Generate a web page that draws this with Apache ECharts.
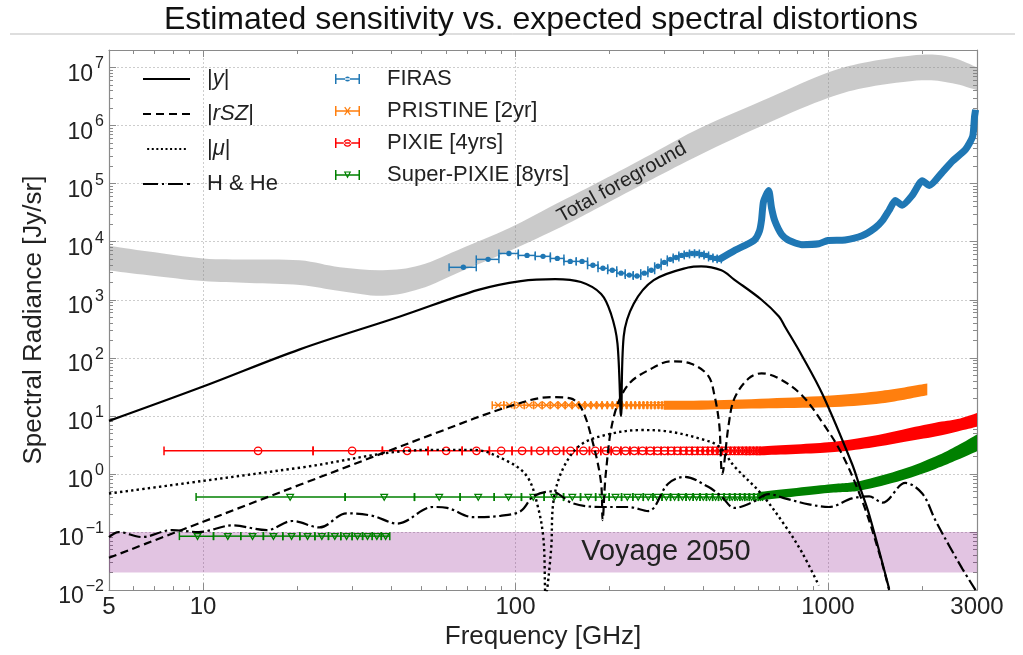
<!DOCTYPE html>
<html>
<head>
<meta charset="utf-8">
<script src="https://cdn.jsdelivr.net/npm/echarts@6/dist/echarts.min.js"></script>
<style>
  html, body { margin: 0; padding: 0; background: #fff; }
  #chart { width: 1023px; height: 655px; }
</style>
</head>
<body>
<div id="chart"></div>
<script>
// all values: frequency in GHz, radiance in Jy/sr

// axis ticks
const xTicks = [5, 10, 100, 1000, 3000]
const xMinor = [6, 7, 8, 9, 20, 30, 40, 50, 60, 70, 80, 90, 200, 300, 400, 500, 600, 700, 800, 900, 2000]
const yTicks = [0.01, 0.1, 1, 10, 100, 1e3, 1e4, 1e5, 1e6, 1e7]

// |y| (solid)
const ySzFreq = [5, 10, 20.4, 42.7, 76, 104, 134, 162, 188, 202, 212, 217.6, 222, 239, 277, 357, 393, 456, 500, 613, 697, 728, 825, 964, 1194, 1265, 1355, 1570]
const ySzVal = [8.2, 32, 140, 515, 1480, 2100, 2270, 2020, 1260, 580, 178, 10, 235, 855, 2180, 3600, 3770, 3220, 2250, 1000, 515, 347, 110, 22.7, 1.5, 0.6, 0.2, 0.0105]

// |rSZ| (dashed)
const rszFreq = [5, 10, 20.4, 57.4, 94.2, 130, 150, 162, 174, 188, 190, 194.5, 206, 229, 272, 315, 365, 414, 433, 449, 459, 481, 502, 557, 613, 697, 825, 957, 1109, 1286, 1458, 1570]
const rszVal = [0.036, 0.15, 0.65, 5.4, 14.2, 21, 20, 14, 4.8, 0.68, 0.16, 1.0, 9.3, 34, 65, 87, 79, 49, 23, 7, 1.0, 7, 20, 44, 54, 44, 22.7, 7.9, 2.2, 0.35, 0.044, 0.01]

// |mu| (dotted)
const muFreq = [5, 10, 20.4, 53.3, 73.3, 94.2, 109, 118, 123, 125, 130, 132.4, 142.6, 162, 197.8, 252, 308, 393, 447, 502, 613, 728, 825, 935]
const muVal = [0.46, 0.76, 1.28, 2.6, 2.6, 1.66, 0.9, 0.27, 0.072, 0.008, 0.05, 0.35, 1.3, 3.2, 4.8, 5.7, 5.4, 4.0, 3.0, 1.35, 0.45, 0.13, 0.045, 0.012]

// H & He (dash-dot)
const hheFreq = [5, 5.37, 6.37, 7.95, 9.7, 12.4, 16.0, 19.3, 23.6, 28.8, 34.9, 41.8, 54.5, 60.4, 73.3, 89.5, 104, 114, 130, 153, 188, 229, 266, 308, 347, 414, 456, 502, 570, 646, 728, 869, 1007, 1194, 1355, 1494, 1770, 2004, 2207, 2449, 2697, 2969]
const hheVal = [0.082, 0.10, 0.082, 0.108, 0.10, 0.13, 0.108, 0.155, 0.12, 0.21, 0.19, 0.14, 0.27, 0.26, 0.18, 0.19, 0.23, 0.41, 0.50, 0.31, 0.27, 0.27, 0.23, 0.68, 0.89, 0.60, 0.41, 0.26, 0.32, 0.45, 0.38, 0.30, 0.27, 0.38, 0.41, 0.32, 0.70, 0.46, 0.16, 0.057, 0.023, 0.01]

// total foreground band
const fgFreq = [5, 6.7, 10, 14.1, 20.4, 27.4, 37.6, 49.5, 68, 96, 140, 188, 272, 393, 646, 1000, 1355, 2000, 2500, 3000]
const fgLow = [3200, 2650, 2100, 1950, 1800, 1420, 1170, 1540, 3200, 7000, 17900, 40700, 117000, 322000, 1.12e6, 2.98e6, 4.6e6, 6.0e6, 5.35e6, 4.07e6]
const fgHigh = [8550, 6760, 5150, 4950, 4770, 3620, 3220, 3920, 7900, 17300, 49500, 112000, 322000, 925000, 2.98e6, 8.2e6, 1.26e7, 1.66e7, 1.48e7, 1.0e7]

// Voyage 2050 target band
const voyFreq = [5, 3000]
const voyLow = [0.02, 0.02]
const voyHigh = [0.1, 0.1]

// FIRAS channels (13.6 GHz wide)
const firasHalf = 6.8
const firasFreq = [68.1, 81.7, 95.3, 108.9, 122.5, 136.1, 149.7, 163.3, 176.9, 190.5, 204.1, 217.7, 231.3, 244.9, 258.5, 272.1, 285.7, 299.3, 312.9, 326.5, 340.1, 353.7, 367.3, 380.9, 394.5, 408.1, 421.7, 435.3, 448.9]
const firasVal = [3620, 4960, 6270, 5800, 5590, 5150, 4580, 4580, 3920, 3480, 3220, 2870, 2660, 2560, 2870, 3220, 3770, 4400, 4960, 5350, 5800, 6030, 6270, 6270, 6030, 5800, 5350, 5150, 4960]
const firasDenseFreq = [449, 502, 541, 582, 604, 613, 622, 646, 660, 676, 711, 750, 825, 935, 1000, 1135, 1286, 1416, 1494, 1571, 1642, 1729, 1862, 2004, 2113, 2326, 2506, 2760, 2906, 2946, 2969]
const firasDenseVal = [4960, 7030, 8550, 10700, 15400, 23500, 49000, 76000, 38000, 22900, 13300, 10500, 8900, 9200, 10500, 10700, 12600, 17300, 23000, 35000, 51000, 42500, 63000, 112000, 93000, 158000, 245000, 390000, 650000, 1420000, 1870000]

// PRISTINE [2yr]
const prHalf = 3.75
const prFreq = [88, 95.5, 103, 110.5, 118, 125.5, 133, 140.5, 148, 155.5, 163, 170.5, 178, 185.5, 193, 200.5, 208, 215.5, 223, 230.5, 238, 245.5, 253, 260.5, 268, 275.5, 283, 290.5, 298]
const prVal = [15.3, 15.3, 15.3, 15.3, 15.3, 15.3, 15.3, 15.3, 15.3, 15.3, 15.3, 15.3, 15.3, 15.3, 15.3, 15.3, 15.3, 15.3, 15.3, 15.3, 15.3, 15.3, 15.3, 15.3, 15.3, 15.3, 15.3, 15.3, 15.3]
const prBandFreq = [298, 393, 646, 1050, 1490, 2080]
const prBandLo = [12.8, 12.8, 13.5, 14.2, 16.5, 22.7]
const prBandHi = [18.2, 18.4, 20, 22.7, 27, 36]

// PIXIE [4yrs]
const pxHalf = 7.5
const pxFreq = [15, 30, 45, 60, 75, 90, 105, 120, 135, 150, 165, 180, 195, 210, 225, 240, 255, 270, 285, 300, 315, 330, 345, 360, 375, 390, 405, 420, 435, 450, 465, 480, 495, 510, 525, 540, 555, 570, 585, 600]
const pxVal = [2.5, 2.5, 2.5, 2.5, 2.5, 2.5, 2.5, 2.5, 2.5, 2.5, 2.5, 2.5, 2.5, 2.5, 2.5, 2.5, 2.5, 2.5, 2.5, 2.5, 2.5, 2.5, 2.5, 2.5, 2.5, 2.5, 2.5, 2.5, 2.5, 2.5, 2.5, 2.5, 2.5, 2.5, 2.5, 2.5, 2.5, 2.5, 2.5, 2.5]
const pxBandFreq = [600, 1000, 1355, 1729, 2207, 2600, 3000]
const pxBandLo = [2.1, 2.35, 2.8, 3.5, 4.4, 5.4, 6.5]
const pxBandHi = [2.95, 3.5, 4.4, 5.8, 7.6, 8.8, 11.2]

// Super-PIXIE [8yrs]
const spHalf = 9.5
const spFreq = [19, 38, 57, 76, 95, 114, 133, 152, 171, 190, 209, 228, 247, 266, 285, 304, 323, 342, 361, 380, 399, 418, 437, 456, 475, 494, 513, 532, 551, 570, 589, 608]
const spVal = [0.4, 0.4, 0.4, 0.4, 0.4, 0.4, 0.4, 0.4, 0.4, 0.4, 0.4, 0.4, 0.4, 0.4, 0.4, 0.4, 0.4, 0.4, 0.4, 0.4, 0.4, 0.4, 0.4, 0.4, 0.4, 0.4, 0.4, 0.4, 0.4, 0.4, 0.4, 0.4]
const spLowHalf = 1.2
const spLowFreq = [9.6, 12.0, 14.4, 16.8, 19.2, 21.6, 24.0, 26.4, 28.8, 31.2, 33.6, 36.0, 38.4]
const spLowVal = [0.085, 0.085, 0.085, 0.085, 0.085, 0.085, 0.085, 0.085, 0.085, 0.085, 0.085, 0.085, 0.085]
const spBandFreq = [600, 1000, 1270, 1729, 2207, 2600, 3000]
const spBandLo = [0.35, 0.47, 0.52, 0.78, 1.22, 1.75, 2.46]
const spBandHi = [0.49, 0.66, 0.76, 1.2, 2.0, 3.1, 4.8]

const FONT = 'Liberation Sans, Arial, sans-serif'
const frameColor = '#8a8a8a'

// catmull-rom through pixel points, as cubic bezier path commands
const smoothPath = (pts) => {
  let d = ''
  for (let i = 0; i < pts.length - 1; i++) {
    const p0 = pts[Math.max(i - 1, 0)]
    const p1 = pts[i]
    const p2 = pts[i + 1]
    const p3 = pts[Math.min(i + 2, pts.length - 1)]
    const c1 = [p1[0] + (p2[0] - p0[0]) / 6, p1[1] + (p2[1] - p0[1]) / 6]
    const c2 = [p2[0] - (p3[0] - p1[0]) / 6, p2[1] - (p3[1] - p1[1]) / 6]
    d += ' C' + c1.join(',') + ' ' + c2.join(',') + ' ' + p2.join(',')
  }
  return d
}

const bandSeries = (name, freq, lo, hi, color, z, label) => ({
  name, type: 'custom', z, silent: true, clip: true,
  data: freq.map((f, i) => [f, lo[i], hi[i]]),
  encode: { x: 0, y: [1, 2] },
  itemStyle: { color },
  renderItem: (params, api) => {
    if (params.dataIndex !== 0) return null
    const top = freq.map((f, i) => api.coord([f, hi[i]]))
    const bottom = freq.map((f, i) => api.coord([f, lo[i]])).reverse()
    const d = 'M' + top[0].join(',') + smoothPath(top) + ' L' + bottom[0].join(',') + smoothPath(bottom) + ' Z'
    const children = [{ type: 'path', shape: { pathData: d }, style: { fill: color } }]
    if (label) {
      const p = api.coord(label.at)
      children.push({
        type: 'text', x: p[0], y: p[1], rotation: label.rotation || 0,
        style: { text: label.text, fontSize: label.size, fontFamily: FONT, fill: '#222', align: 'center', verticalAlign: 'middle' }
      })
    }
    return { type: 'group', children }
  }
})

const markerShape = (kind, c, color) => {
  const st = { stroke: color, lineWidth: 1.3, fill: 'none' }
  if (kind === 'dot') return { type: 'circle', shape: { cx: c[0], cy: c[1], r: 2.7 }, style: { fill: color } }
  if (kind === 'circle') return { type: 'circle', shape: { cx: c[0], cy: c[1], r: 3.7 }, style: st }
  if (kind === 'tri') return { type: 'polygon', shape: { points: [[c[0] - 3.3, c[1] - 2.6], [c[0] + 3.3, c[1] - 2.6], [c[0], c[1] + 3.2]] }, style: st }
  // cross
  return { type: 'group', children: [
    { type: 'line', shape: { x1: c[0] - 3.2, y1: c[1] - 3.2, x2: c[0] + 3.2, y2: c[1] + 3.2 }, style: st },
    { type: 'line', shape: { x1: c[0] - 3.2, y1: c[1] + 3.2, x2: c[0] + 3.2, y2: c[1] - 3.2 }, style: st }
  ] }
}

const errorBarSeries = (name, freq, vals, half, color, kind, capH, z) => ({
  name, type: 'custom', z, clip: true,
  data: freq.map((f, i) => [f, vals[i], half]),
  encode: { x: 0, y: 1 },
  itemStyle: { color },
  renderItem: (params, api) => {
    const f = api.value(0)
    const v = api.value(1)
    const hw = api.value(2)
    const c = api.coord([f, v])
    const l = api.coord([f - hw, v])
    const r = api.coord([f + hw, v])
    const st = { stroke: color, lineWidth: 1.5 }
    return { type: 'group', children: [
      { type: 'line', shape: { x1: l[0], y1: l[1], x2: r[0], y2: r[1] }, style: st },
      { type: 'line', shape: { x1: l[0], y1: l[1] - capH, x2: l[0], y2: l[1] + capH }, style: st },
      { type: 'line', shape: { x1: r[0], y1: r[1] - capH, x2: r[0], y2: r[1] + capH }, style: st },
      markerShape(kind, c, color)
    ] }
  }
})

const lineSeries = (name, freq, vals, dash, width) => ({
  name, type: 'line', z: 6, symbol: 'none', showSymbol: false, smooth: 0.35, clip: true,
  data: freq.map((f, i) => [f, vals[i]]),
  lineStyle: { color: '#000', width: width || 2, type: dash },
  itemStyle: { color: '#000' }
})

const yLabel = (v) => {
  const lg = Math.log10(v)
  const e = Math.round(lg)
  if (Math.abs(lg - e) > 1e-6) return ''
  const s = e < 0 ? '\u2212' + (-e) : String(e)
  return '{b|10}{e|' + s + '}'
}

const yMinor = []
for (let n = -2; n <= 6; n++) for (let k = 2; k <= 9; k++) yMinor.push(k * Math.pow(10, n))

const axisBase = (extra) => Object.assign({
  type: 'log', logBase: 10,
  axisLine: { show: true, lineStyle: { color: frameColor, width: 1.2 } },
  axisTick: { show: true, inside: true, length: 7, lineStyle: { color: frameColor, width: 1 } },
  axisLabel: { show: false },
  splitLine: { show: false }
}, extra)

const gridLine = { show: true, lineStyle: { color: '#cdcdcd', width: 1, type: [2, 2] } }

const FIRAS_C = '#1f77b4'
const PRIS_C = '#ff7f0e'
const PIXIE_C = '#ff0000'
const SP_C = '#008000'

// legend glyphs: line styles and errorbar-with-marker
const LINE_SOLID = 'path://M0,0h47v2h-47z'
const LINE_DASH = 'path://M0,0h8v2h-8zM13,0h8v2h-8zM26,0h8v2h-8zM39,0h8v2h-8z'
const LINE_DOT = 'path://M0,0h2.4v2.4h-2.4zM5.5,0h2.4v2.4h-2.4zM11,0h2.4v2.4h-2.4zM16.5,0h2.4v2.4h-2.4zM22,0h2.4v2.4h-2.4zM27.5,0h2.4v2.4h-2.4zM33,0h2.4v2.4h-2.4zM38.5,0h2.4v2.4h-2.4zM44,0h2.4v2.4h-2.4z'
const LINE_DASHDOT = 'path://M0,0h15v2h-15zM19,0h2v2h-2zM25,0h15v2h-15zM44,0h2v2h-2zM46,0h1v2h-1z'
const BAR = 'M0,0h1.5v10h-1.5zM23.5,0h1.5v10h-1.5zM0,4.25h25v1.5h-25z'

const option = {
  animation: false,
  backgroundColor: '#fff',
  textStyle: { fontFamily: FONT },
  grid: { left: 109, right: 46, top: 50, bottom: 57 },
  graphic: [
    { type: 'line', shape: { x1: 10, y1: 34, x2: 1015, y2: 34 }, style: { stroke: '#bdbdbd', lineWidth: 1 } },
    { type: 'text', x: 541, y: 20, style: { text: 'Estimated sensitivity vs. expected spectral distortions', fontSize: 32, fontFamily: FONT, fill: '#111', align: 'center', verticalAlign: 'middle' } }
  ],
  legend: [
    {
      orient: 'vertical', left: 143, top: 68, padding: 0, itemGap: 13,
      itemWidth: 47, itemHeight: 2,
      data: [
        { name: '|y|', icon: LINE_SOLID },
        { name: '|rSZ|', icon: LINE_DASH },
        { name: '|\u03bc|', icon: LINE_DOT },
        { name: 'H & He', icon: LINE_DASHDOT }
      ],
      formatter: (n) => n === 'H & He' ? n : '|{i|' + n.slice(1, -1) + '}|',
      textStyle: { fontSize: 22, lineHeight: 22, color: '#222', padding: [0, 0, 0, 12], fontFamily: FONT,
        rich: { i: { fontSize: 22, fontStyle: 'italic', fontFamily: FONT, color: '#222' } } }
    },
    {
      orient: 'vertical', left: 335, top: 68, padding: 0, itemGap: 10,
      itemWidth: 25, itemHeight: 10,
      data: [
        { name: 'FIRAS', icon: 'path://' + BAR + 'M10,5a2.5,2.5 0 1,0 5,0a2.5,2.5 0 1,0 -5,0z' },
        { name: 'PRISTINE [2yr]', icon: 'path://' + BAR + 'M9.2,1.6L10.2,0.8L15.8,8.4L14.8,9.2zM14.8,0.8L15.8,1.6L10.2,9.2L9.2,8.4z' },
        { name: 'PIXIE [4yrs]', icon: 'path://' + BAR + 'M8.7,5a3.8,3.8 0 1,0 7.6,0a3.8,3.8 0 1,0 -7.6,0zM10,5a2.5,2.5 0 1,1 5,0a2.5,2.5 0 1,1 -5,0z' },
        { name: 'Super-PIXIE [8yrs]', icon: 'path://' + BAR + 'M8.8,1.5L16.2,1.5L12.5,8.6zM10.7,2.6L12.5,6.2L14.3,2.6z' }
      ],
      textStyle: { fontSize: 22, lineHeight: 22, color: '#222', padding: [0, 0, 0, 22], fontFamily: FONT }
    }
  ],
  xAxis: [
    axisBase({
      min: 5, max: 3000, position: 'bottom',
      name: 'Frequency [GHz]', nameLocation: 'middle', nameGap: 28,
      nameTextStyle: { fontSize: 26, color: '#222', fontFamily: FONT },
      axisLabel: { show: true, margin: 5, fontSize: 24, color: '#222', fontFamily: FONT,
        formatter: (v) => xTicks.indexOf(Math.round(v)) >= 0 ? String(Math.round(v)) : '' },
      splitLine: gridLine
    }),
    axisBase({ min: 5, max: 3000, position: 'bottom', axisLine: { show: false },
      axisTick: { show: true, inside: true, length: 4, customValues: xMinor, lineStyle: { color: frameColor, width: 1 } } }),
    axisBase({ min: 5, max: 3000, position: 'top' }),
    axisBase({ min: 5, max: 3000, position: 'top', axisLine: { show: false },
      axisTick: { show: true, inside: true, length: 4, customValues: xMinor, lineStyle: { color: frameColor, width: 1 } } })
  ],
  yAxis: [
    axisBase({
      min: 0.01, max: 2e7, position: 'left',
      name: 'Spectral Radiance [Jy/sr]', nameLocation: 'middle', nameGap: 62,
      nameTextStyle: { fontSize: 26, color: '#222', fontFamily: FONT },
      axisLabel: { show: true, margin: 5, color: '#222', fontFamily: FONT, formatter: yLabel,
        rich: {
          b: { fontSize: 23, lineHeight: 23, padding: [14, 0, 0, 0], fontFamily: FONT, color: '#222' },
          e: { fontSize: 16, lineHeight: 16, verticalAlign: 'top', padding: [0, 0, 0, 2], fontFamily: FONT, color: '#222' }
        } },
      splitLine: gridLine
    }),
    axisBase({ min: 0.01, max: 2e7, position: 'left', axisLine: { show: false },
      axisTick: { show: true, inside: true, length: 4, customValues: yMinor, lineStyle: { color: frameColor, width: 1 } } }),
    axisBase({ min: 0.01, max: 2e7, position: 'right' }),
    axisBase({ min: 0.01, max: 2e7, position: 'right', axisLine: { show: false },
      axisTick: { show: true, inside: true, length: 4, customValues: yMinor, lineStyle: { color: frameColor, width: 1 } } })
  ],
  series: [
    bandSeries('Voyage 2050', voyFreq, voyLow, voyHigh, 'rgba(128,0,128,0.23)', 1,
      { text: 'Voyage 2050', at: [303, 0.0447], size: 29 }),
    bandSeries('Total foreground', fgFreq, fgLow, fgHigh, 'rgba(128,128,128,0.42)', 1,
      { text: 'Total foreground', at: [219, 1.04e5], size: 20, rotation: 0.51 }),

    errorBarSeries('FIRAS', firasFreq, firasVal, firasHalf, FIRAS_C, 'dot', 4, 3),
    {
      name: 'FIRAS', type: 'line', z: 3, symbol: 'none', smooth: 0.2, clip: true,
      data: firasDenseFreq.map((f, i) => [f, firasDenseVal[i]]),
      lineStyle: { color: FIRAS_C, width: 7 }, itemStyle: { color: FIRAS_C }
    },

    errorBarSeries('PRISTINE [2yr]', prFreq, prVal, prHalf, PRIS_C, 'cross', 4, 3),
    bandSeries('PRISTINE [2yr]', prBandFreq, prBandLo, prBandHi, PRIS_C, 3),

    errorBarSeries('PIXIE [4yrs]', pxFreq, pxVal, pxHalf, PIXIE_C, 'circle', 4.3, 3),
    bandSeries('PIXIE [4yrs]', pxBandFreq, pxBandLo, pxBandHi, PIXIE_C, 3),

    errorBarSeries('Super-PIXIE [8yrs]', spFreq, spVal, spHalf, SP_C, 'tri', 4, 3),
    errorBarSeries('Super-PIXIE [8yrs]', spLowFreq, spLowVal, spLowHalf, SP_C, 'tri', 4, 3),
    bandSeries('Super-PIXIE [8yrs]', spBandFreq, spBandLo, spBandHi, SP_C, 3),

    lineSeries('|y|', ySzFreq, ySzVal, 'solid', 2.2),
    lineSeries('|rSZ|', rszFreq, rszVal, [8, 4.5], 2.2),
    lineSeries('|\u03bc|', muFreq, muVal, [2.4, 3.2], 2.4),
    lineSeries('H & He', hheFreq, hheVal, [12, 3.5, 2.5, 3.5], 2.2)
  ]
}

const chart = echarts.init(document.getElementById('chart'))
chart.setOption(option)
</script>
</body>
</html>
